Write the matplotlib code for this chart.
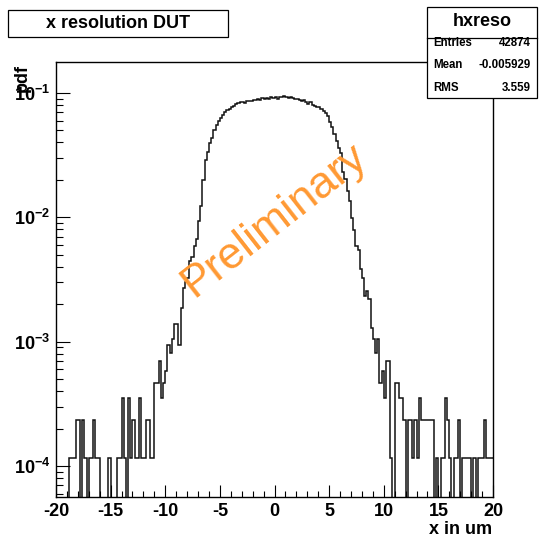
import numpy as np
import matplotlib
matplotlib.use("Agg")
import matplotlib.pyplot as plt
from matplotlib.patches import Rectangle
from matplotlib.lines import Line2D
from matplotlib.ticker import FixedLocator, MultipleLocator, NullFormatter

plt.rcParams["font.family"] = ["Liberation Sans", "DejaVu Sans"]
plt.rcParams["mathtext.fontset"] = "custom"
plt.rcParams["mathtext.rm"] = "Liberation Sans:weight=bold"
plt.rcParams["mathtext.it"] = "Liberation Sans:weight=bold"
plt.rcParams["mathtext.bf"] = "Liberation Sans:weight=bold"
plt.rcParams["mathtext.default"] = "bf"

# hxreso: 200 bins of 0.2 um between -20 and 20
hist_name = "hxreso"
x_min, x_max = -20.0, 20.0
entries = 42874
mean = -0.005929
rms = 3.559

# bin contents (counts per bin)
counts = [
    0, 0, 0, 0, 0, 0, 1, 1, 1, 2,
    2, 0, 2, 1, 0, 1, 1, 2, 1, 1,
    0, 0, 0, 0, 1, 0, 0, 0, 1, 1,
    3, 1, 0, 3, 1, 2, 1, 1, 3, 1,
    1, 2, 2, 1, 1, 4, 4, 6, 3, 4,
    5, 8, 7, 9, 12, 12, 8, 16, 23, 26,
    28, 38, 41, 50, 57, 80, 105, 170, 250, 290,
    340, 370, 430, 470, 510, 540, 570, 600, 625, 640,
    660, 680, 700, 710, 720, 730, 715, 735, 745, 740,
    755, 750, 770, 760, 775, 770, 785, 765, 790, 780,
    795, 770, 800, 790, 805, 795, 785, 790, 780, 770,
    765, 750, 740, 755, 720, 705, 720, 690, 680, 665,
    660, 640, 620, 590, 560, 500, 460, 400, 350, 310,
    280, 200, 175, 140, 115, 85, 68, 50, 47, 33,
    28, 20, 22, 19, 11, 9, 7, 9, 4, 5,
    3, 6, 6, 1, 0, 4, 4, 3, 3, 2,
    0, 2, 2, 1, 2, 1, 3, 2, 2, 2,
    2, 2, 2, 0, 1, 0, 1, 1, 3, 2,
    1, 0, 1, 1, 2, 0, 1, 1, 1, 1,
    0, 1, 0, 1, 1, 1, 2, 1, 1, 1,
]

y_ticks = [1e-4, 1e-3, 1e-2, 1e-1]
y_tick_labels = [r"$\mathbf{10^{-4}}$", r"$\mathbf{10^{-3}}$",
                 r"$\mathbf{10^{-2}}$", r"$\mathbf{10^{-1}}$"]
x_ticks = [-20, -15, -10, -5, 0, 5, 10, 15, 20]

counts = np.array(counts, dtype=float)
edges = np.linspace(x_min, x_max, len(counts) + 1)
width = edges[1] - edges[0]
pdf = counts / (entries * width)
pdf_draw = np.where(pdf > 0, pdf, 1e-7)

fig = plt.figure(figsize=(5.39, 5.49), dpi=100)
ax = fig.add_axes([56 / 539, 1 - 497 / 549, 437 / 539, 435 / 549])

ax.stairs(pdf_draw, edges, baseline=None, color="#111111", lw=1.1)
ax.set_yscale("log")
ax.set_xlim(x_min, x_max)
ax.set_ylim(5.63e-5, 0.1776)

# ROOT style ticks
ax.tick_params(which="both", direction="in", top=False, right=False)
ax.tick_params(which="major", axis="y", length=10, width=0.8, pad=4, labelsize=13)
ax.tick_params(which="minor", axis="y", length=5, width=0.8)
ax.tick_params(which="major", axis="x", length=9, width=0.8, pad=4, labelsize=13)
ax.tick_params(which="minor", axis="x", length=4.5, width=0.8)
ax.xaxis.set_major_locator(FixedLocator(x_ticks))
ax.xaxis.set_minor_locator(MultipleLocator(1))
ax.set_xticklabels([str(t) for t in x_ticks], fontweight="bold")
ax.yaxis.set_major_locator(FixedLocator(y_ticks))
ax.set_yticklabels(y_tick_labels)
minor_y = [m * 10.0 ** e for e in range(-5, 0) for m in range(2, 10)]
ax.yaxis.set_minor_locator(FixedLocator(minor_y))
ax.yaxis.set_minor_formatter(NullFormatter())
for sp in ax.spines.values():
    sp.set_linewidth(1.0)

# watermark
ax.text(0.5, 0.635, "Preliminary", transform=ax.transAxes, color="#ff9933",
        fontsize=32, rotation=38, ha="center", va="center",
        rotation_mode="anchor")

# axis titles
fig.text(492 / 539, 1 - 530 / 549, "x in um", ha="right", va="center",
         fontsize=13, fontweight="bold")
fig.text(22 / 539, 1 - 64 / 549, "pdf", ha="center", va="top", rotation=90,
         fontsize=13, fontweight="bold")

# title box
fig.patches.append(Rectangle((8 / 539, 1 - 37 / 549), 220 / 539, 27 / 549,
                             transform=fig.transFigure, fill=False,
                             edgecolor="black", lw=0.9))
fig.text(118 / 539, 1 - 24 / 549, "x resolution DUT", ha="center", va="center",
         fontsize=13, fontweight="bold")

# stats box
bx0, bx1, by0, by1 = 427, 537, 7, 98
fig.patches.append(Rectangle((bx0 / 539, 1 - by1 / 549), (bx1 - bx0) / 539,
                             (by1 - by0) / 549, transform=fig.transFigure,
                             facecolor="white", edgecolor="black", lw=0.9,
                             zorder=5))
fig.lines.append(Line2D([bx0 / 539, bx1 / 539], [1 - 38 / 549, 1 - 38 / 549],
                        transform=fig.transFigure, color="black", lw=0.9,
                        zorder=6))
fig.text((bx0 + bx1) / 2 / 539, 1 - 22 / 549, hist_name, ha="center",
         va="center", fontsize=13, fontweight="bold", zorder=7)
rows = [("Entries", f"{entries}", 43), ("Mean", f"{mean:.6f}".rstrip("0"), 65),
        ("RMS", f"{rms}", 88)]
for name, val, yy in rows:
    fig.text(433 / 539, 1 - yy / 549, name, ha="left", va="center",
             fontsize=8.3, fontweight="bold", zorder=7)
    fig.text(531 / 539, 1 - yy / 549, val, ha="right", va="center",
             fontsize=8.3, fontweight="bold", zorder=7)

fig.savefig("out.png", dpi=100)
